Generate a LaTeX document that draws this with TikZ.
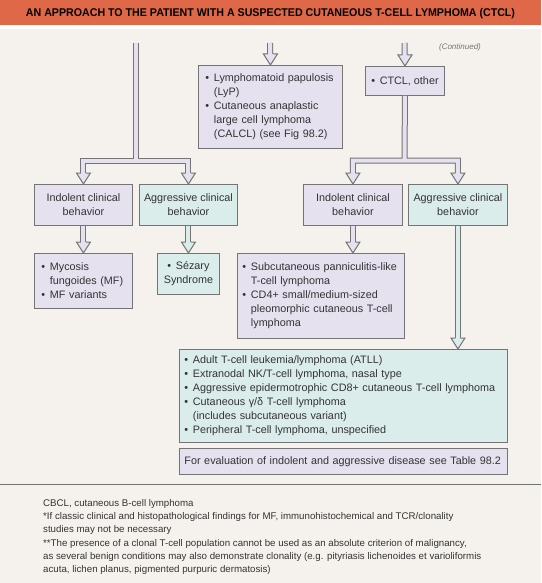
\documentclass[tikz,border=0pt]{standalone}
\usepackage{fontspec}
\setmainfont{Liberation Sans}
\usetikzlibrary{calc}

\definecolor{hdr}{HTML}{DE6848}
\definecolor{bgc}{HTML}{F5F2ED}
\definecolor{lav}{HTML}{E6E1EE}
\definecolor{tea}{HTML}{DAEDEB}
\definecolor{edge}{HTML}{747474}
\definecolor{ink}{HTML}{333333}

\tikzset{
  box/.style={draw=edge, line width=0.9pt, anchor=north west, inner ysep=0pt,
    text=ink, font=\fontsize{10.8}{14}\selectfont},
  lavbox/.style={box, fill=lav},
  teabox/.style={box, fill=tea},
  fat/.style={draw=edge, line width=1pt, double=#1, double distance=4pt},
}

% bullet and hanging indent
\newcommand{\bul}{\makebox[8.5pt][l]{\textbullet}}
\newcommand{\ind}{\hspace*{8.5pt}}
% open head of a fat arrow, #1 fill, #2 tip
\newcommand{\fathead}[2]{%
  \fill[#1] (#2) -- ++(-7,-11) -- ++(14,0) -- cycle;
  \draw[edge, line width=1pt, line join=miter] (#2) ++(-2.5,-11) -- ++(-4.5,0) -- (#2) -- ++(7,-11) -- ++(-4.5,0);
}

\begin{document}
\begin{tikzpicture}[x=1pt, y=-1pt]
\useasboundingbox (0,0) rectangle (541,583);
\fill[bgc] (0,29) rectangle (541,583);
\fill[hdr] (0,0) rectangle (541,25);
\node (title) at (270.5,13.5) {\fontsize{11.2}{13}\selectfont\resizebox{489pt}{\height}{\bfseries AN APPROACH TO THE PATIENT WITH A SUSPECTED CUTANEOUS T-CELL LYMPHOMA (CTCL)}};
\node[font=\itshape\fontsize{8}{9}\selectfont, text=edge] (cont) at (460,47) {(Continued)};

% boxes
\node[lavbox, minimum width=144pt, minimum height=83pt, text width=130pt, inner xsep=7pt, align=left] (lyp) at (198,65)
  {\bul Lymphomatoid papulosis\\\ind (LyP)\\\bul Cutaneous anaplastic\\\ind large cell lymphoma\\\ind (CALCL) (see Fig 98.2)};
\node[lavbox, minimum width=79pt, minimum height=29pt, align=center] (ctcl) at (365,66) {\bul CTCL, other};

\node[lavbox, minimum width=98pt, minimum height=41pt, align=center] (indolL) at (34,184) {Indolent clinical\\behavior};
\node[teabox, minimum width=98pt, minimum height=41pt, align=center] (aggrL) at (139,184) {Aggressive clinical\\behavior};
\node[lavbox, minimum width=99pt, minimum height=41pt, align=center] (indolR) at (303,184) {Indolent clinical\\behavior};
\node[teabox, minimum width=99pt, minimum height=41pt, align=center] (aggrR) at (408,184) {Aggressive clinical\\behavior};

\node[lavbox, minimum width=98pt, minimum height=55pt, text width=84pt, inner xsep=7pt, align=left] (mf) at (34,253)
  {\bul Mycosis\\\ind fungoides (MF)\\\bul MF variants};
\node[teabox, minimum width=62pt, minimum height=41pt, align=center] (sez) at (157,253) {\bul Sézary\\Syndrome};
\node[lavbox, minimum width=167pt, minimum height=85pt, text width=157pt, inner xsep=5pt, align=left] (subcut) at (237,253)
  {\bul Subcutaneous panniculitis-like\\\ind T-cell lymphoma\\\bul CD4+ small/medium-sized\\\ind pleomorphic cutaneous T-cell\\\ind lymphoma};
\node[teabox, minimum width=328pt, minimum height=93pt, text width=318pt, inner xsep=5pt, align=left] (atll) at (179,349)
  {\bul Adult T-cell leukemia/lymphoma (ATLL)\\\bul Extranodal NK/T-cell lymphoma, nasal type\\\bul Aggressive epidermotrophic CD8+ cutaneous T-cell lymphoma\\\bul Cutaneous γ/δ T-cell lymphoma\\\ind (includes subcutaneous variant)\\\bul Peripheral T-cell lymphoma, unspecified};
\node[lavbox, minimum width=328pt, minimum height=26pt, text width=318pt, inner xsep=5pt, align=left] (evalbox) at (179,448)
  {For evaluation of indolent and aggressive disease see Table 98.2};

% fat arrows
\coordinate (ltop) at (135.5,43);
\coordinate (ljoin) at (135.5,160.5);
\coordinate (mtop) at (270,43);
\coordinate (rtop) at (404.5,43);
\coordinate (rjoin) at (404.5,160.5);
\coordinate (hIL) at ($(indolL.north)+(0,-11)$);
\coordinate (hAL) at ($(aggrL.north)+(0,-11)$);
\coordinate (hIR) at ($(indolR.north)+(0,-11)$);
\coordinate (hAR) at ($(aggrR.north)+(0,-11)$);

\draw[fat=lav] (ltop) -- (ljoin) (hIL) |- (ljoin) -| (hAL);
\draw[fat=lav] (ctcl.south) -- (rjoin) (hIR) |- (rjoin) -| (hAR);
\draw[fat=lav, shorten >=11pt] (mtop) -- (lyp.north);
\draw[fat=lav, shorten >=11pt] (rtop) -- (ctcl.north);
\draw[fat=lav, shorten >=11pt] (indolL.south) -- (mf.north);
\draw[fat=tea, shorten >=11pt] (aggrL.south) -- (sez.north);
\draw[fat=lav, shorten >=11pt] (indolR.south) -- (indolR.south |- subcut.north);
\draw[fat=tea, shorten >=11pt] (aggrR.south) -- (aggrR.south |- atll.north);

\fathead{lav}{indolL.north}
\fathead{lav}{aggrL.north}
\fathead{lav}{lyp.north}
\fathead{lav}{ctcl.north}
\fathead{lav}{indolR.north}
\fathead{lav}{aggrR.north}
\fathead{lav}{mf.north}
\fathead{tea}{sez.north}
\fathead{lav}{indolR.south |- subcut.north}
\fathead{tea}{aggrR.south |- atll.north}

% notes
\draw[edge, line width=0.8pt] (0,484.5) -- (541,484.5);
\node[anchor=north west, align=left, inner sep=0pt, text=ink, font=\fontsize{9.7}{13.3}\selectfont] (notes) at (43,499)
  {CBCL, cutaneous B-cell lymphoma\\
   *If classic clinical and histopathological findings for MF, immunohistochemical and TCR/clonality\\
   studies may not be necessary\\
   **The presence of a clonal T-cell population cannot be used as an absolute criterion of malignancy,\\
   as several benign conditions may also demonstrate clonality (e.g. pityriasis lichenoides et varioliformis\\
   acuta, lichen planus, pigmented purpuric dermatosis)};
\end{tikzpicture}
\end{document}
